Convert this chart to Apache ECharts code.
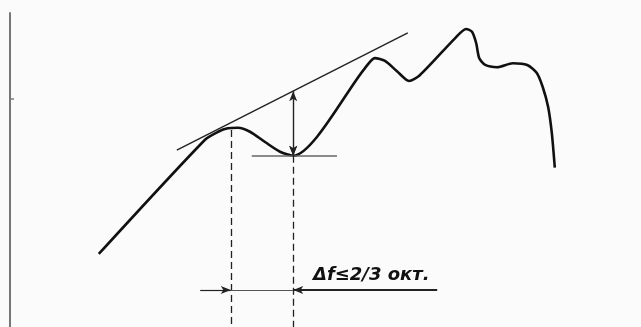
<!DOCTYPE html>
<html>
<head>
    <meta charset="utf-8">
    <title></title>
    <style>
        html, body { margin: 0; padding: 0; background: #fafbfa; }
        #chart { width: 641px; height: 327px; }
    </style>
</head>
<body>
<div id="chart"></div>
<script src="https://cdn.jsdelivr.net/npm/echarts@6/dist/echarts.min.js"></script>
<script type="text/javascript">
    // характеристика (x - частота, y - уровень), условные единицы
    var curveX = [1.48, 3.25, 3.47, 3.63, 3.8, 4.0, 4.25, 4.5, 4.72, 5.92, 6.08, 6.25, 6.45, 6.65, 6.83,
        7.42, 7.6, 7.7, 7.77, 7.82, 7.92, 8.12, 8.38, 8.62, 8.78, 8.88, 8.97, 9.03, 9.08];
    var curveY = [12.8, 32.8, 34.2, 34.8, 34.9, 34.2, 32.4, 30.7, 30.0, 45.4, 47.1, 46.6, 44.8, 43.1, 44.1,
        50.6, 52.2, 51.7, 49.7, 47.1, 45.9, 45.5, 46.2, 45.9, 44.5, 42.0, 38.5, 34.0, 27.9];
    // касательная к пикам
    var tangentX = [2.78, 6.63];
    var tangentY = [31.0, 51.5];
    // провал и его глубина
    var dipX = 4.72, dipY = 30.0, dipTop = 41.3;
    var dipLineX = [4.03, 5.45];
    // пик слева от провала
    var peakX = 3.68, peakY = 34.5;
    // размерная линия
    var dimY = 6.5;
    var dimLeft = 3.17, dimRight = 7.12;
    var labelText = 'Δf≤2/3 окт.';
    var yTicks = [40];

    var myChart = echarts.init(document.getElementById('chart'));

    function pairs(xs, ys) {
        return xs.map(function (x, i) { return [x, ys[i]]; });
    }

    var thin = { color: '#222', width: 1.2, type: 'solid' };
    var option = {
        animation: false,
        backgroundColor: '#fafbfa',
        grid: { left: 10, right: 31, top: 13, bottom: 0 },
        xAxis: {
            type: 'value', min: 0, max: 10,
            show: false
        },
        yAxis: {
            type: 'value', min: 0, max: 55,
            axisLine: { show: true, lineStyle: { color: '#777', width: 2 } },
            axisTick: { show: true, inside: true, length: 4, customValues: yTicks, lineStyle: { color: '#777', width: 1.5 } },
            axisLabel: { show: false },
            splitLine: { show: false }
        },
        graphic: [{
            type: 'text',
            left: 313,
            top: 266,
            silent: true,
            style: {
                text: labelText,
                fill: '#111',
                font: 'italic bold 18px "DejaVu Sans"'
            }
        }],
        series: [{
            type: 'line',
            data: pairs(curveX, curveY),
            smooth: 0.25,
            symbol: 'none',
            lineStyle: { color: '#111', width: 2.6 },
            silent: true
        }, {
            type: 'line',
            data: pairs(tangentX, tangentY),
            symbol: 'none',
            lineStyle: { color: '#222', width: 1.4 },
            silent: true,
            markLine: {
                silent: true,
                symbol: 'none',
                label: { show: false },
                lineStyle: thin,
                data: [
                    // горизонталь по дну провала
                    [{ coord: [dipLineX[0], dipY], lineStyle: { color: '#666', width: 1.5, type: 'solid' } }, { coord: [dipLineX[1], dipY] }],
                    // штриховые выносные линии
                    [{ coord: [peakX, peakY], lineStyle: { color: '#222', width: 1.3, type: [7, 4] } }, { coord: [peakX, 0] }],
                    [{ coord: [dipX, dipY], lineStyle: { color: '#222', width: 1.3, type: [7, 4] } }, { coord: [dipX, 0] }],
                    // размерная линия между стрелками
                    [{ coord: [peakX, dimY], lineStyle: { color: '#555', width: 1.2, type: 'solid' } }, { coord: [dipX, dimY] }]
                ]
            }
        }, {
            type: 'line',
            data: [],
            markLine: {
                silent: true,
                symbol: ['none', 'arrow'],
                symbolSize: [6, 10],
                label: { show: false },
                lineStyle: thin,
                data: [
                    [{ coord: [dimLeft, dimY] }, { coord: [peakX, dimY] }],
                    [{ coord: [dimRight, dimY], lineStyle: { color: '#222', width: 1.8, type: 'solid' } }, { coord: [dipX, dimY] }],
                    [{ coord: [dipX, dipY], symbol: 'arrow' }, { coord: [dipX, dipTop] }],
                    [{ coord: [dipX, dipTop] }, { coord: [dipX, dipY] }]
                ]
            }
        }]
    };
    myChart.setOption(option);
</script>
</body>
</html>
